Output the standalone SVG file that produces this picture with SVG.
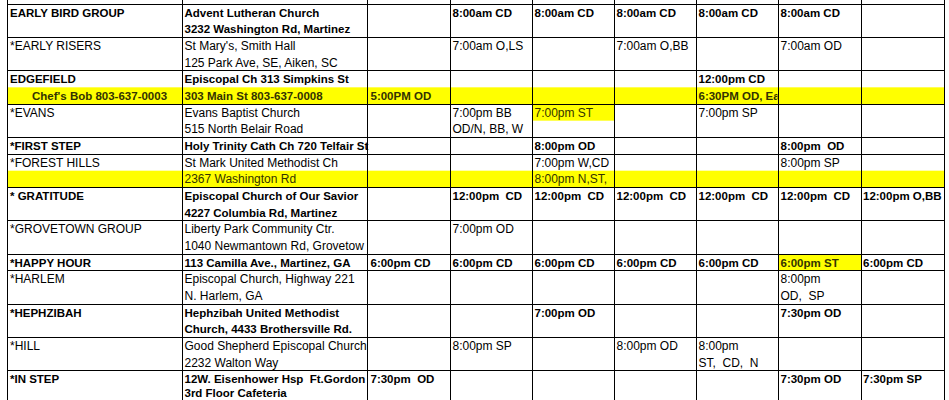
<svg xmlns="http://www.w3.org/2000/svg" width="949" height="400" viewBox="0 0 949 400">
<style>
text{font-family:"Liberation Sans",Arial,sans-serif;font-size:12px;fill:#000;white-space:pre}
.b{font-weight:bold;font-size:11.5px}
.y{fill:#333300}
.hl{fill:#ffff00}
.grid line{stroke:#000;stroke-width:1;shape-rendering:crispEdges}
</style>
<defs>
<clipPath id="c1"><rect x="182" y="0" width="185.5" height="420"/></clipPath>
<clipPath id="c6"><rect x="696" y="0" width="81.5" height="420"/></clipPath>
</defs>
<rect width="949" height="400" fill="#fff"/>
<g id="highlights">
<rect class="hl" x="7" y="87.33" width="937" height="16.67"/>
<rect class="hl" x="7" y="170.67" width="937" height="16.67"/>
<rect class="hl" x="532" y="104" width="82" height="16.67"/>
<rect class="hl" x="778" y="254" width="83" height="16.67"/>
</g>
<g id="cells" transform="translate(0,-1.3)">
<g id="row-early-bird">
<text class="b" x="10" y="18">EARLY BIRD GROUP</text>
<text class="b" x="184.5" y="18">Advent Lutheran Church</text>
<text class="b" x="184.5" y="34.7">3232 Washington Rd, Martinez</text>
<text class="b" x="452.5" y="18">8:00am CD</text>
<text class="b" x="534.5" y="18">8:00am CD</text>
<text class="b" x="616.5" y="18">8:00am CD</text>
<text class="b" x="698.5" y="18">8:00am CD</text>
<text class="b" x="780.5" y="18">8:00am CD</text>
</g>
<g id="row-early-risers">
<text x="10" y="51.3">*EARLY RISERS</text>
<text x="184.5" y="51.3">St Mary's, Smith Hall</text>
<text x="184.5" y="68">125 Park Ave, SE, Aiken, SC</text>
<text x="452.5" y="51.3">7:00am O,LS</text>
<text x="616.5" y="51.3">7:00am O,BB</text>
<text x="780.5" y="51.3">7:00am OD</text>
</g>
<g id="row-edgefield">
<text class="b" x="10" y="84.7">EDGEFIELD</text>
<text class="b y" x="32" y="101.3">Chef's Bob 803-637-0003</text>
<text class="b" x="184.5" y="84.7">Episcopal Ch 313 Simpkins St</text>
<text class="b y" x="184.5" y="101.3">303 Main St 803-637-0008</text>
<text class="b y" x="370.5" y="101.3">5:00PM OD</text>
<text class="b" x="698.5" y="84.7">12:00pm CD</text>
<text class="b y" x="698.5" y="101.3" clip-path="url(#c6)">6:30PM OD, Ea</text>
</g>
<g id="row-evans">
<text x="10" y="118">*EVANS</text>
<text x="184.5" y="118">Evans Baptist Church</text>
<text x="184.5" y="134.7">515 North Belair Road</text>
<text x="452.5" y="118">7:00pm BB</text>
<text x="452.5" y="134.7">OD/N, BB, W</text>
<text class="y" x="534.5" y="118">7:00pm ST</text>
<text x="698.5" y="118">7:00pm SP</text>
</g>
<g id="row-first-step">
<text class="b" x="10" y="151.3">*FIRST STEP</text>
<text class="b" x="184.5" y="151.3">Holy Trinity Cath Ch 720 Telfair St</text>
<text class="b" x="534.5" y="151.3">8:00pm OD</text>
<text class="b" x="780.5" y="151.3">8:00pm  OD</text>
</g>
<g id="row-forest-hills">
<text x="10" y="168">*FOREST HILLS</text>
<text x="184.5" y="168">St Mark United Methodist Ch</text>
<text class="y" x="184.5" y="184.7">2367 Washington Rd</text>
<text x="534.5" y="168">7:00pm W,CD</text>
<text class="y" x="534.5" y="184.7">8:00pm N,ST,</text>
<text x="780.5" y="168">8:00pm SP</text>
</g>
<g id="row-gratitude">
<text class="b" x="10" y="201.3">* GRATITUDE</text>
<text class="b" x="184.5" y="201.3">Episcopal Church of Our Savior</text>
<text class="b" x="184.5" y="218">4227 Columbia Rd, Martinez</text>
<text class="b" x="452.5" y="201.3">12:00pm  CD</text>
<text class="b" x="534.5" y="201.3">12:00pm  CD</text>
<text class="b" x="616.5" y="201.3">12:00pm  CD</text>
<text class="b" x="698.5" y="201.3">12:00pm  CD</text>
<text class="b" x="780.5" y="201.3">12:00pm  CD</text>
<text class="b" x="863" y="201.3">12:00pm O,BB</text>
</g>
<g id="row-grovetown">
<text x="10" y="234.7">*GROVETOWN GROUP</text>
<text x="184.5" y="234.7">Liberty Park Community Ctr.</text>
<text x="184.5" y="251.3" clip-path="url(#c1)">1040 Newmantown Rd, Grovetow</text>
<text x="452.5" y="234.7">7:00pm OD</text>
</g>
<g id="row-happy-hour">
<text class="b" x="10" y="268">*HAPPY HOUR</text>
<text class="b" x="184.5" y="268">113 Camilla Ave., Martinez, GA</text>
<text class="b" x="370.5" y="268">6:00pm CD</text>
<text class="b" x="452.5" y="268">6:00pm CD</text>
<text class="b" x="534.5" y="268">6:00pm CD</text>
<text class="b" x="616.5" y="268">6:00pm CD</text>
<text class="b" x="698.5" y="268">6:00pm CD</text>
<text class="b y" x="780.5" y="268">6:00pm ST</text>
<text class="b" x="863" y="268">6:00pm CD</text>
</g>
<g id="row-harlem">
<text x="10" y="284.7">*HARLEM</text>
<text x="184.5" y="284.7">Episcopal Church, Highway 221</text>
<text x="184.5" y="301.3">N. Harlem, GA</text>
<text x="780.5" y="284.7">8:00pm</text>
<text x="780.5" y="301.3">OD,  SP</text>
</g>
<g id="row-hephzibah">
<text class="b" x="10" y="318">*HEPHZIBAH</text>
<text class="b" x="184.5" y="318">Hephzibah United Methodist</text>
<text class="b" x="184.5" y="334.7">Church, 4433 Brothersville Rd.</text>
<text class="b" x="534.5" y="318">7:00pm OD</text>
<text class="b" x="780.5" y="318">7:30pm OD</text>
</g>
<g id="row-hill">
<text x="10" y="351.3">*HILL</text>
<text x="184.5" y="351.3">Good Shepherd Episcopal Church</text>
<text x="184.5" y="368">2232 Walton Way</text>
<text x="452.5" y="351.3">8:00pm SP</text>
<text x="616.5" y="351.3">8:00pm OD</text>
<text x="698.5" y="351.3">8:00pm</text>
<text x="698.5" y="368">ST,  CD,  N</text>
</g>
<g id="row-in-step">
<text class="b" x="10" y="384.7">*IN STEP</text>
<text class="b" x="184.5" y="384.7" clip-path="url(#c1)">12W. Eisenhower Hsp  Ft.Gordon</text>
<text class="b" x="184.5" y="398.5">3rd Floor Cafeteria</text>
<text class="b" x="370.5" y="384.7">7:30pm  OD</text>
<text class="b" x="780.5" y="384.7">7:30pm OD</text>
<text class="b" x="863" y="384.7">7:30pm SP</text>
</g>
</g>
<g id="grid" class="grid">
<line x1="7.5" y1="0" x2="7.5" y2="400"/>
<line x1="182.5" y1="0" x2="182.5" y2="400"/>
<line x1="367.5" y1="0" x2="367.5" y2="400"/>
<line x1="450.5" y1="0" x2="450.5" y2="400"/>
<line x1="532.5" y1="0" x2="532.5" y2="400"/>
<line x1="614.5" y1="0" x2="614.5" y2="400"/>
<line x1="696.5" y1="0" x2="696.5" y2="400"/>
<line x1="778.5" y1="0" x2="778.5" y2="400"/>
<line x1="861.5" y1="0" x2="861.5" y2="400"/>
<line x1="944.5" y1="0" x2="944.5" y2="400"/>
<line x1="7" y1="4.5" x2="945" y2="4.5"/>
<line x1="7" y1="37.5" x2="945" y2="37.5"/>
<line x1="7" y1="70.5" x2="945" y2="70.5"/>
<line x1="7" y1="104.5" x2="945" y2="104.5"/>
<line x1="7" y1="137.5" x2="945" y2="137.5"/>
<line x1="7" y1="154.5" x2="945" y2="154.5"/>
<line x1="7" y1="187.5" x2="945" y2="187.5"/>
<line x1="7" y1="220.5" x2="945" y2="220.5"/>
<line x1="7" y1="254.5" x2="945" y2="254.5"/>
<line x1="7" y1="270.5" x2="945" y2="270.5"/>
<line x1="7" y1="304.5" x2="945" y2="304.5"/>
<line x1="7" y1="337.5" x2="945" y2="337.5"/>
<line x1="7" y1="370.5" x2="945" y2="370.5"/>
</g>
</svg>
